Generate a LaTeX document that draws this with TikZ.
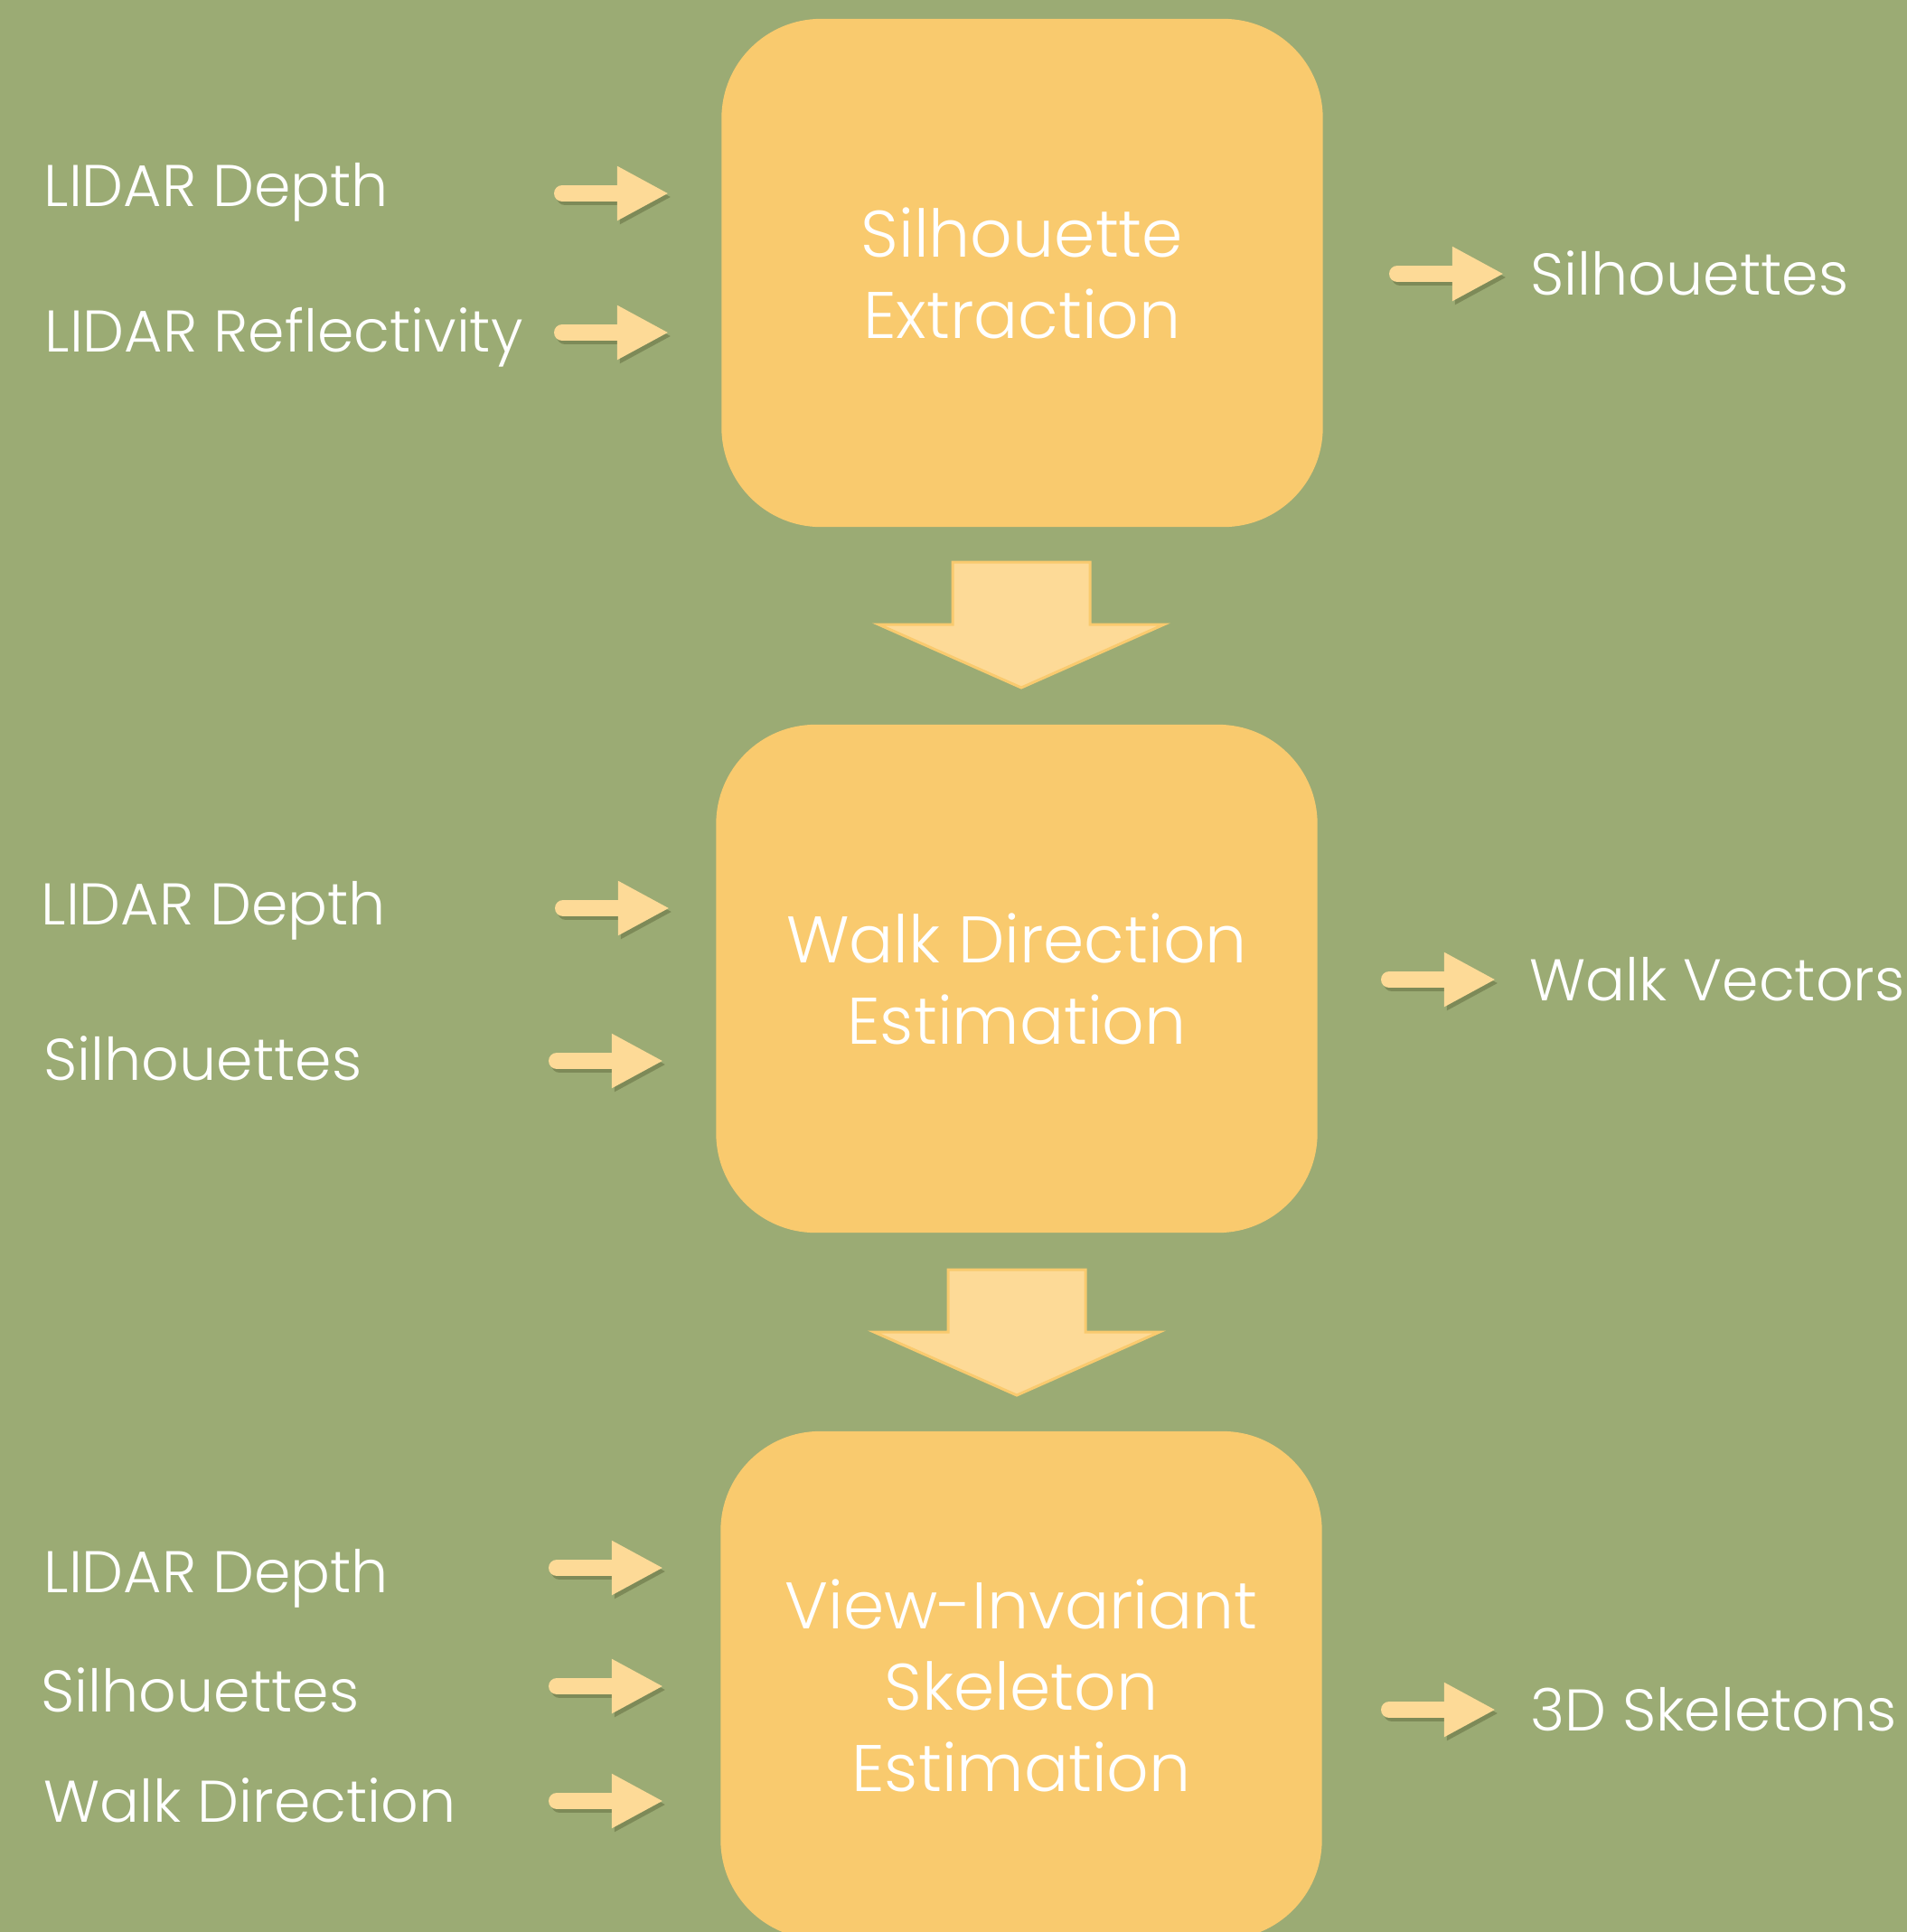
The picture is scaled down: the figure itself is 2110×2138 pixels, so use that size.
\documentclass[tikz,border=0pt]{standalone}
\usepackage{fontspec}
\setmainfont{Poppins Light}
\usetikzlibrary{arrows.meta}
\definecolor{bg}{HTML}{9BAB74}
\definecolor{boxfill}{HTML}{F9CA6E}
\definecolor{arrowfill}{HTML}{FDDA97}
\definecolor{shade}{HTML}{7D8A58}

\begin{document}
\begin{tikzpicture}[x=0.01cm, y=-0.01cm,
    stage/.style={fill=boxfill, rounded corners=1.1cm, minimum width=6.65cm, minimum height=5.62cm,
        text=white, align=center, font=\fontsize{20.7}{25.6}\selectfont},
    inlabel/.style={anchor=base west, text=white, inner sep=0pt, font=\fontsize{18.5}{22}\selectfont},
    feed/.style={line width=0.18cm, line cap=round, draw=arrowfill, -{Triangle[length=0.57cm, width=0.56cm]}},
    feedshadow/.style={feed, draw=shade, transform canvas={shift={(0.03cm,-0.04cm)}}},
    flow/.style={fill=arrowfill, draw=boxfill, line width=0.03cm, line join=miter}]

        \fill[bg] (0,0) rectangle (2110,2138);
        \useasboundingbox (0,0) rectangle (2110,2138);
        \clip (0,0) rectangle (2110,2138);

        \node[stage] (sil) at (1131,302) {Silhouette\\Extraction};
        \node[stage] (walk) at (1125,1083) {Walk Direction\\Estimation};
        \node[stage] (skel) at (1130,1865) {View-Invariant\\Skeleton\\Estimation};

        \node[inlabel] (depth1) at (48,228) {LIDAR Depth};
        \node[inlabel] (refl1) at (49,389) {LIDAR Reflectivity};
        \node[inlabel] (depth2) at (45,1023) {LIDAR Depth};
        \node[inlabel] (sil2) at (48,1195) {Silhouettes};
        \node[inlabel] (depth3) at (48,1762) {LIDAR Depth};
        \node[inlabel] (sil3) at (45,1894) {Silhouettes};
        \node[inlabel] (dir3) at (48,2016) {Walk Direction};

        \node[inlabel] (out1) at (1693,326) {Silhouettes};
        \node[inlabel] (out2) at (1692,1107) {Walk Vectors};
        \node[inlabel] (out3) at (1693,1915) {3D Skeletons};

        \foreach \n/\x/\y in {a/622/214, b/622/368, c/623/1005, d/616/1174, e/616/1735, f/616/1866,
                g/616/1993, h/1546/303, i/1537/1084, j/1537/1892} {
            \coordinate (\n s) at (\x,\y);
            \coordinate (\n e) at (\x+118,\y);
            \draw[feedshadow] (\n s) -- (\n e);
            \draw[feed] (\n s) -- (\n e);
        }

        \coordinate (dn1) at (1130,622);
        \coordinate (dn2) at (1125,1405);
        \foreach \c in {dn1,dn2}
            \draw[flow] (\c) ++(-76,0) -- ++(152,0) -- ++(0,69) -- ++(82,0) -- ++(-158,70)
                -- ++(-158,-70) -- ++(82,0) -- cycle;
\end{tikzpicture}
\end{document}
